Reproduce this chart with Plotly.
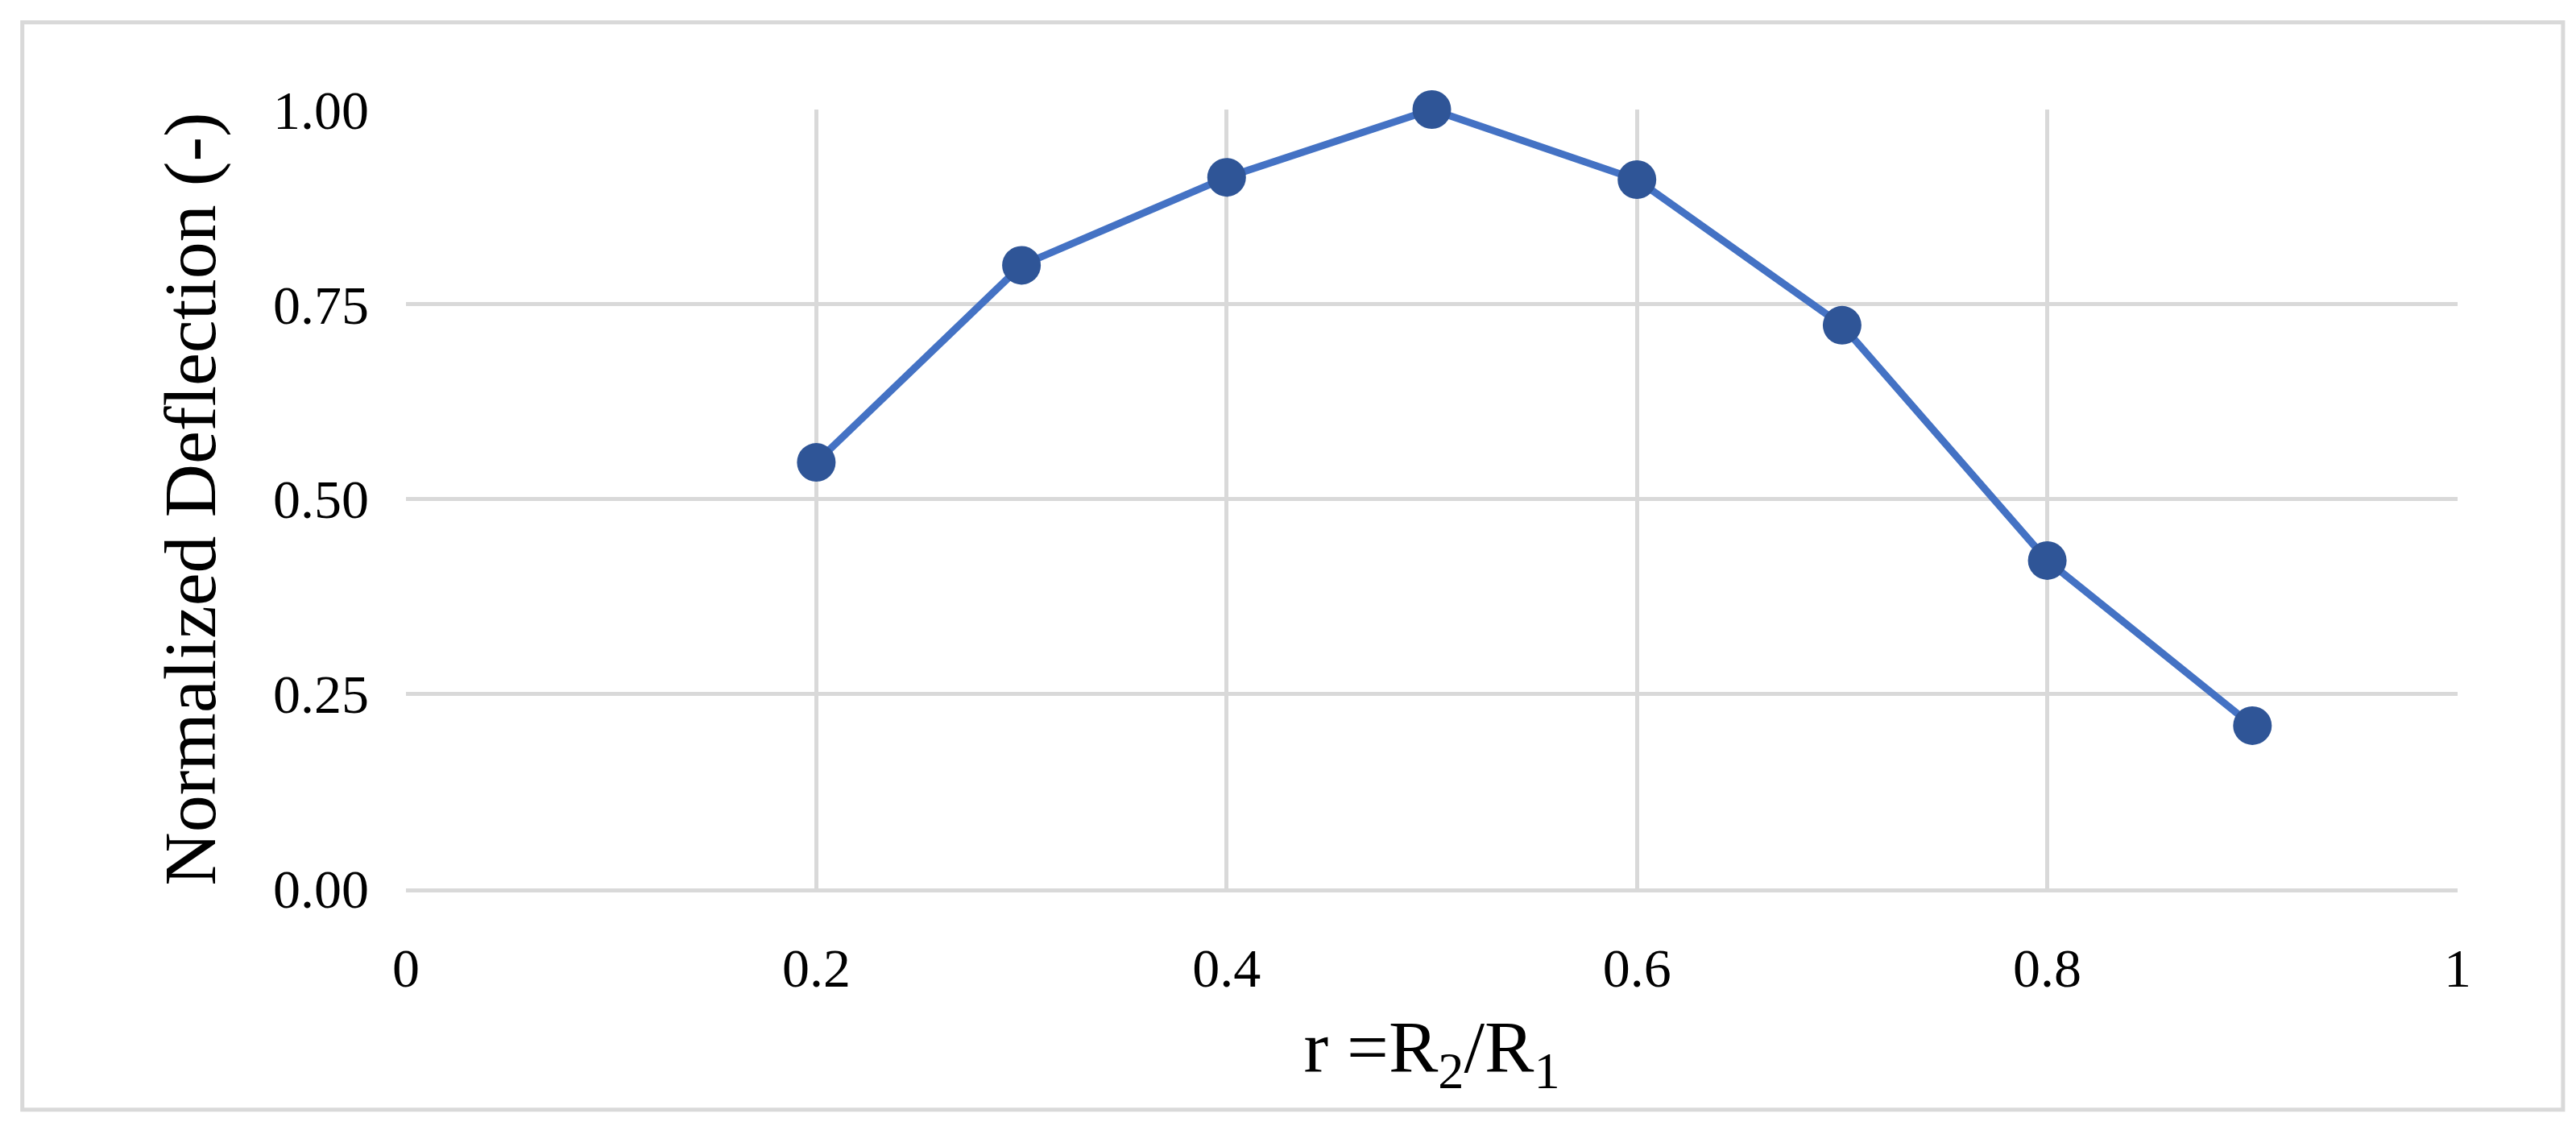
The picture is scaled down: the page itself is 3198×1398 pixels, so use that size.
import plotly.graph_objects as go

r_vals = [0.2, 0.3, 0.4, 0.5, 0.6, 0.7, 0.8, 0.9]
deflection = [0.547, 0.800, 0.913, 1.000, 0.910, 0.723, 0.421, 0.209]
y_ticks = [0, 0.25, 0.5, 0.75, 1.0]
y_tick_text = ["0.00", "0.25", "0.50", "0.75", "1.00"]
x_ticks = [0, 0.2, 0.4, 0.6, 0.8, 1]
x_tick_text = ["0", "0.2", "0.4", "0.6", "0.8", "1"]

fig = go.Figure(go.Scatter(
    x=r_vals, y=deflection, mode="lines+markers",
    line=dict(color="#4472C4", width=9),
    marker=dict(color="#2F5597", size=48),
    cliponaxis=False,
))
font = "Liberation Serif, Times New Roman, serif"
fig.update_layout(
    width=3198, height=1398,
    margin=dict(l=496, r=155, t=128, b=303),
    paper_bgcolor="white", plot_bgcolor="white",
    showlegend=False,
    font=dict(family=font, size=68, color="black"),
    xaxis=dict(range=[0, 1], tickvals=x_ticks, ticktext=x_tick_text,
               showgrid=True, gridcolor="#D9D9D9", gridwidth=5,
               zeroline=False, showline=True, linecolor="#D9D9D9", linewidth=5,
               ticklabelstandoff=35,
               title=dict(text="r =R<sub>2</sub>/R<sub>1</sub>", font=dict(size=92), standoff=30)),
    yaxis=dict(range=[0, 1], tickvals=y_ticks, ticktext=y_tick_text,
               showgrid=True, gridcolor="#D9D9D9", gridwidth=5,
               zeroline=False, showline=False,
               ticklabelstandoff=45,
               title=dict(text="Normalized Deflection (-)", font=dict(size=92), standoff=40)),
    shapes=[dict(type="rect", xref="paper", yref="paper",
                 x0=-0.187, x1=1.0514, y0=-0.284, y1=1.112,
                 line=dict(color="#D9D9D9", width=5), layer="below")],
)
fig.write_html("out.html")
